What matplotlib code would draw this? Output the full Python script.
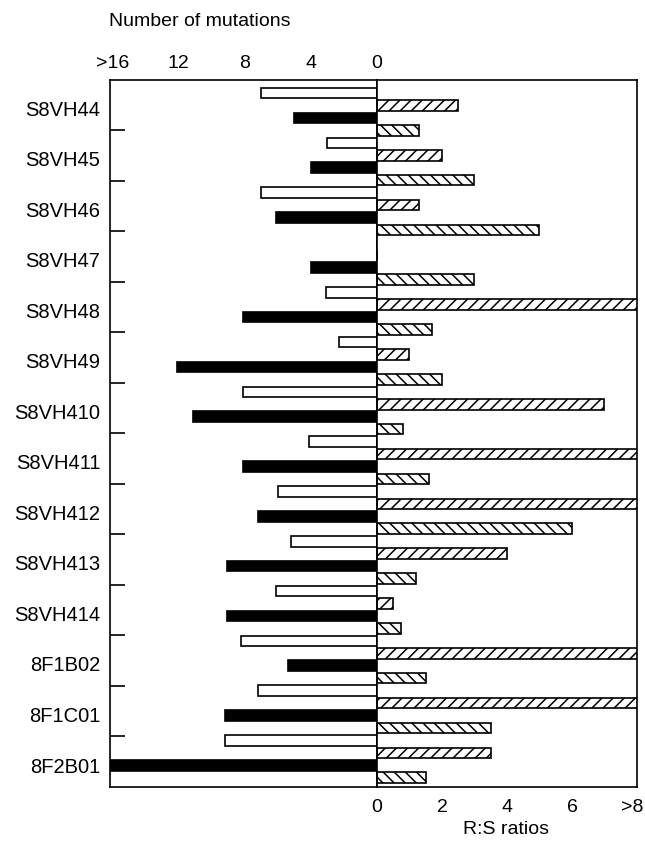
import matplotlib
matplotlib.use("Agg")
import matplotlib.pyplot as plt
import matplotlib.transforms as mtransforms
import numpy as np

plt.rcParams['font.family'] = ['Liberation Sans', 'DejaVu Sans']
plt.rcParams['hatch.linewidth'] = 1.1

# Klone (von oben nach unten)
clones = ["S8VH44", "S8VH45", "S8VH46", "S8VH47", "S8VH48", "S8VH49", "S8VH410",
          "S8VH411", "S8VH412", "S8VH413", "S8VH414", "8F1B02", "8F1C01", "8F2B01"]
# Anzahl Mutationen (linke Seite), 17 = ">16"
open_mut = [7, 3, 7, 0, 3.1, 2.3, 8.1, 4.1, 6, 5.2, 6.1, 8.2, 7.2, 9.2]
solid_mut = [5, 4, 6.1, 4, 8.1, 12.1, 11.1, 8.1, 7.2, 9.1, 9.1, 5.4, 9.2, 17]
# R:S Verhaeltnisse (rechte Seite), 9 = ">8"
rs_fwd = [2.5, 2.0, 1.3, 0, 9, 1.0, 7.0, 9, 9, 4.0, 0.5, 9, 9, 3.5]
rs_back = [1.3, 3.0, 5.0, 3.0, 1.7, 2.0, 0.8, 1.6, 6.0, 1.2, 0.75, 1.5, 3.5, 1.5]

top_ticks = [16, 12, 8, 4, 0]
top_labels = [">16", "12", "8", "4", "0"]
bottom_ticks = [0, 2, 4, 6, 8]
bottom_labels = ["0", "2", "4", "6", ">8"]

n = len(clones)
slot = np.arange(n) * 4
h = 0.85
fs = 14

fig = plt.figure(figsize=(6.45, 8.54), dpi=100)
axl = fig.add_axes([0.1705, 0.0776, 0.414, 0.8279])
axr = fig.add_axes([0.5845, 0.0776, 0.403, 0.8279], sharey=axl)

axl.barh(slot, open_mut, height=h, color="white", edgecolor="black", lw=1.2)
axl.barh(slot + 2, solid_mut, height=h, color="black", edgecolor="black", lw=1.2)
axr.barh(slot + 1, rs_fwd, height=h, color="white", edgecolor="black", hatch="///", lw=1.2)
axr.barh(slot + 3, rs_back, height=h, color="white", edgecolor="black", hatch="\\\\\\", lw=1.2)

y_top, y_bot = -1.07, 55.72
axl.set_ylim(y_bot, y_top)
axl.set_xlim(16.15, 0)
axr.set_xlim(0, 8)

for ax in (axl, axr):
    for s in ax.spines.values():
        s.set_linewidth(1.2)

# obere Achse: Mutationen
axl.xaxis.tick_top()
axl.set_xticks(top_ticks, top_labels, fontsize=fs)
axl.set_xticks([4, 8, 12], minor=True)
axl.tick_params(axis="x", which="major", length=0, pad=6)
axl.tick_params(axis="x", which="minor", direction="in", length=6.5, width=1.2, top=True, bottom=False)

# untere Achse: R:S
axr.set_xticks(bottom_ticks, bottom_labels, fontsize=fs)
axr.set_xticks([2, 4, 6], minor=True)
axr.tick_params(axis="x", which="major", length=0, pad=8)
axr.tick_params(axis="x", which="minor", direction="in", length=7, width=1.2)
last = axr.get_xticklabels()[-1]
last.set_horizontalalignment("right")
last.set_transform(last.get_transform() + mtransforms.ScaledTranslation(6 / 100, 0, fig.dpi_scale_trans))

# Klonnamen und Trennstriche
frac = (np.arange(n) + 0.55) / n
axl.set_yticks(y_top + (y_bot - y_top) * frac, clones, fontsize=14.5)
axl.set_yticks(np.linspace(y_top, y_bot, n + 1)[1:-1], minor=True)
axl.tick_params(axis="y", which="major", length=0, pad=7)
axl.tick_params(axis="y", which="minor", direction="in", length=11, width=1.2)
axr.tick_params(axis="y", which="both", left=False, labelleft=False)

fig.text(200 / 645, 1 - 22 / 854, "Number of mutations", ha="center", va="center", fontsize=fs)
fig.text(506 / 645, 1 - 830 / 854, "R:S ratios", ha="center", va="center", fontsize=fs)

fig.savefig("out.png", dpi=100)
